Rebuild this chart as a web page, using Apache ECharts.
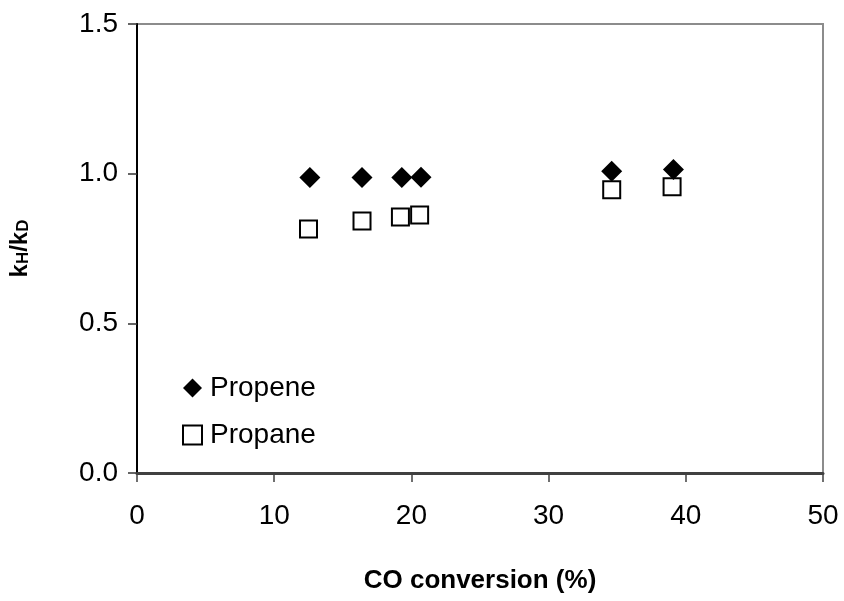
<!DOCTYPE html>
<html>
<head>
<meta charset="utf-8">
<script src="https://cdn.jsdelivr.net/npm/echarts@6/dist/echarts.min.js"></script>
<style>
  html, body { margin: 0; padding: 0; background: #fff; }
  #chart { width: 844px; height: 601px; }
</style>
</head>
<body>
<div id="chart"></div>
<script>
// CO conversion (%) for each run
const propeneX = [12.6, 16.4, 19.3, 20.7, 34.6, 39.1];
const propeneY = [0.987, 0.987, 0.987, 0.988, 1.008, 1.014];
const propaneX = [12.5, 16.4, 19.2, 20.6, 34.6, 39.0];
const propaneY = [0.815, 0.842, 0.855, 0.862, 0.946, 0.956];

const xTicks = [0, 10, 20, 30, 40, 50];
const yTicks = [0.0, 0.5, 1.0, 1.5];

const pairs = (xs, ys) => xs.map((x, i) => [x, ys[i]]);

const font = '"Liberation Sans", Arial, sans-serif';

const chart = echarts.init(document.getElementById('chart'), null, { renderer: 'canvas' });

chart.setOption({
  animation: false,
  backgroundColor: '#ffffff',
  grid: {
    left: 137, right: 21, top: 24, bottom: 128,
    show: true, borderColor: '#8c8c8c', borderWidth: 2, backgroundColor: 'transparent'
  },
  legend: {
    orient: 'vertical',
    left: 177, top: 369,
    itemGap: 19,
    itemWidth: 19, itemHeight: 19,
    textStyle: { fontFamily: font, fontSize: 28, lineHeight: 28, color: '#000', padding: [0, 0, 0, 3] },
    data: [
      { name: 'Propene', icon: 'diamond' },
      { name: 'Propane', icon: 'rect' }
    ]
  },
  xAxis: {
    type: 'value',
    min: xTicks[0], max: xTicks[xTicks.length - 1], interval: 10,
    name: 'CO conversion (%)',
    nameLocation: 'middle', nameGap: 95,
    nameTextStyle: { fontFamily: font, fontSize: 26, fontWeight: 'bold', color: '#000' },
    axisLine: { onZero: false, lineStyle: { color: '#404040', width: 3 } },
    axisTick: { show: true, inside: false, length: 9, lineStyle: { color: '#404040', width: 1.5 } },
    axisLabel: { fontFamily: font, fontSize: 28, color: '#000', margin: 29 },
    splitLine: { show: false }
  },
  yAxis: {
    type: 'value',
    min: yTicks[0], max: yTicks[yTicks.length - 1], interval: 0.5,
    name: '{k|k}{s|H}{k|/k}{s|D}',
    nameLocation: 'middle', nameGap: 105, nameRotate: 90,
    nameTextStyle: {
      fontFamily: font, fontWeight: 'bold', color: '#000',
      rich: {
        k: { fontFamily: font, fontSize: 24, fontWeight: 'bold', color: '#000' },
        s: { fontFamily: font, fontSize: 17, fontWeight: 'bold', color: '#000', verticalAlign: 'bottom', padding: [6, 0, 0, 0] }
      }
    },
    axisLine: { onZero: false, lineStyle: { color: '#000', width: 2 } },
    axisTick: { show: true, inside: false, length: 9, lineStyle: { color: '#333', width: 1.5 } },
    axisLabel: {
      fontFamily: font, fontSize: 28, color: '#000', margin: 19,
      formatter: v => v.toFixed(1)
    },
    splitLine: { show: false }
  },
  series: [
    {
      name: 'Propene',
      type: 'scatter',
      symbol: 'diamond',
      symbolSize: 21,
      itemStyle: { color: '#000', borderColor: '#000', borderWidth: 0, opacity: 1 },
      data: pairs(propeneX, propeneY),
      z: 3
    },
    {
      name: 'Propane',
      type: 'scatter',
      symbol: 'rect',
      symbolSize: 17,
      itemStyle: { color: '#fff', borderColor: '#000', borderWidth: 2, opacity: 1 },
      data: pairs(propaneX, propaneY),
      z: 2
    }
  ]
});
</script>
</body>
</html>
